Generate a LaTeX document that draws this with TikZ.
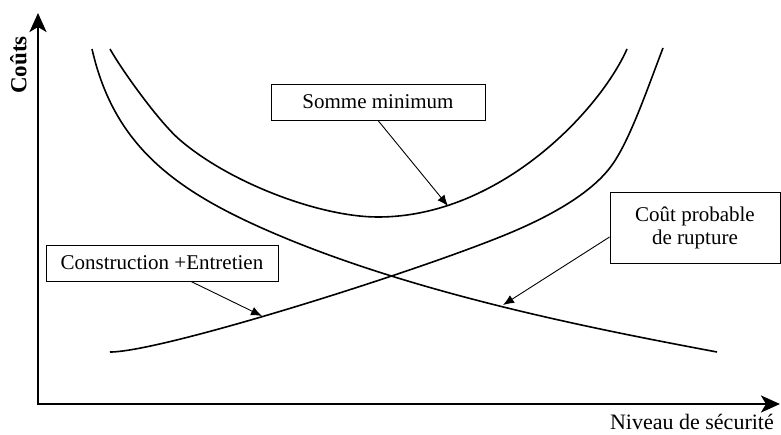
\documentclass[tikz,border=0pt]{standalone}
\usepackage{fontspec}
\setmainfont{Liberation Serif}
\usetikzlibrary{arrows.meta}
\begin{document}
\begin{tikzpicture}[x=1pt,y=-1pt,
  curve/.style={line width=1.6pt},
  lbl/.style={draw, line width=0.9pt, font=\fontsize{21}{23}\selectfont, inner sep=0pt, align=center},
  ptr/.style={line width=0.9pt, -{Latex[length=11pt,width=9pt]}},
  axis/.style={line width=2.8pt, line join=miter, {Stealth[length=19pt,width=17pt,inset=5pt]}-{Stealth[length=19pt,width=17pt,inset=5pt]}}]
\useasboundingbox (0,0) rectangle (781,434);
% axes
\coordinate (ytop) at (38,13);
\coordinate (origin) at (38,404);
\coordinate (xend) at (780,404);
\draw[axis] (ytop) -- (origin) -- (xend);
\node[rotate=90, font=\bfseries\fontsize{23}{25}\selectfont] (ylab) at (18.5,65) {Coûts};
\node[anchor=base east, inner sep=0pt, font=\fontsize{22}{24}\selectfont] (xlab) at (774,429) {Niveau de sécurité};
% Coût probable de rupture (decreasing)
\draw[curve] (92,49) .. controls (115,150) and (180,195) .. (290,240)
                     .. controls (430,297) and (600,330) .. (717,352);
% Somme minimum (U)
\draw[curve] (110,49) .. controls (123,72) and (160,123) .. (180,140)
                      .. controls (230,183) and (320,217) .. (378,217)
                      .. controls (500,217) and (600,110) .. (627,49);
% Construction + Entretien (increasing)
\draw[curve] (110,352) .. controls (160,352) and (400,277) .. (500,237)
                       .. controls (550,217) and (592,193) .. (612,165)
                       .. controls (630,140) and (648,87) .. (663,48);
% labels
\node[lbl, minimum width=214pt, minimum height=36pt] (somme) at (378,102) {Somme minimum};
\node[lbl, minimum width=232pt, minimum height=36pt] (cons) at (162,263) {Construction +Entretien};
\node[lbl, minimum width=170pt, minimum height=71pt] (cout) at (695,227.5) {Coût probable\\de rupture};
% pointer targets
\coordinate (tsomme) at (448,206);
\coordinate (tcons) at (262,316);
\coordinate (tcout) at (503,305);
\draw[ptr] (somme.south) -- (tsomme);
\draw[ptr] ([xshift=29pt]cons.south) -- (tcons);
\draw[ptr] ([yshift=-9.5pt]cout.west) -- (tcout);
\end{tikzpicture}
\end{document}
